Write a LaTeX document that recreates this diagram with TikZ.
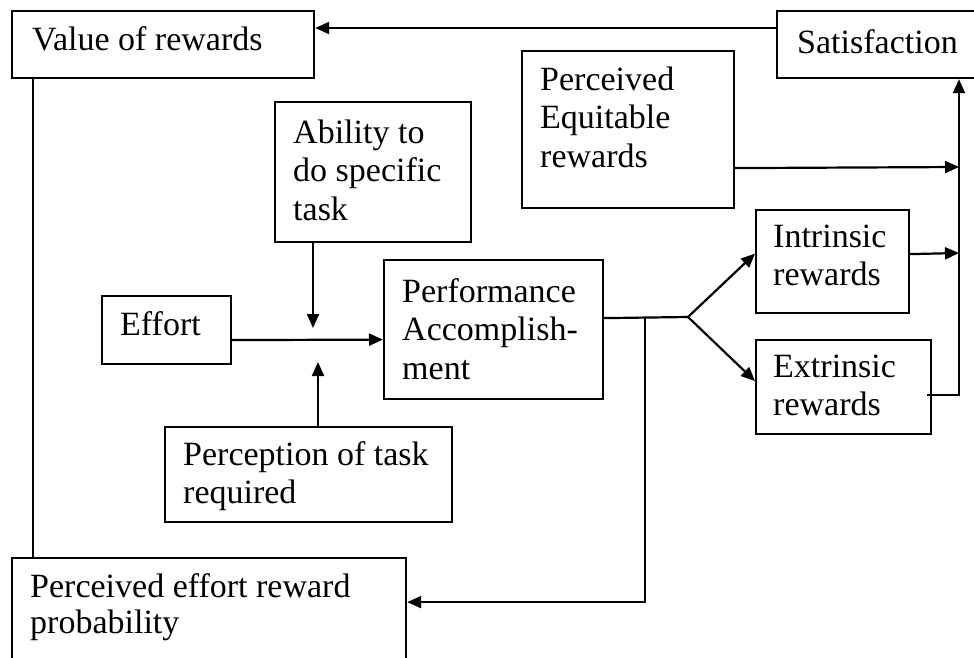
\documentclass[tikz,border=0pt]{standalone}
\usepackage{fontspec}
\setmainfont{Liberation Serif}
\usetikzlibrary{arrows.meta}
\begin{document}
\begin{tikzpicture}[x=1pt,y=-1pt,
  box/.style={draw=black, line width=2.2pt, rectangle, inner sep=0pt, anchor=north west},
  txt/.style={anchor=north west, inner sep=0pt, align=left, font=\fontsize{34}{38.5}\selectfont},
  conn/.style={draw=black, line width=2.2pt},
  arr/.style={conn, -{Triangle[length=14pt,width=12pt]}}]
\useasboundingbox (0,0) rectangle (974,658);
% boxes
\node[box, minimum width=302pt, minimum height=67pt] (vr) at (11,10) {};
\node[box, minimum width=214pt, minimum height=67pt] (sat) at (776,10) {};
\node[box, minimum width=212pt, minimum height=157pt] (per) at (521,50) {};
\node[box, minimum width=196pt, minimum height=140pt] (abl) at (274,101) {};
\node[box, minimum width=129pt, minimum height=68pt] (eff) at (101,295) {};
\node[box, minimum width=219pt, minimum height=139pt] (perf) at (383,259) {};
\node[box, minimum width=287pt, minimum height=95pt] (pct) at (164,426) {};
\node[box, minimum width=394pt, minimum height=120pt] (per2) at (11,557) {};
\node[box, minimum width=153pt, minimum height=103pt] (intr) at (755,209) {};
\node[box, minimum width=175pt, minimum height=94pt] (extr) at (755,339) {};
% texts
\node[txt] (vrT) at (32,23) {\strut Value of rewards};
\node[txt] (satT) at (797,26) {\strut Satisfaction};
\node[txt] (perT) at (540,63) {\strut Perceived\\\strut Equitable\\\strut rewards};
\node[txt] (ablT) at (293,116) {\strut Ability to\\\strut do specific\\\strut task};
\node[txt] (effT) at (120,308) {\strut Effort};
\node[txt] (perfT) at (402,275) {\strut Performance\\\strut Accomplish-\\\strut ment};
\node[txt] (pctT) at (183,438) {\strut Perception of task\\\strut required};
\node[txt] (per2T) at (30,570) {\strut Perceived effort reward\\[-2.5pt]\strut probability};
\node[txt] (intrT) at (773,220) {\strut Intrinsic\\\strut rewards};
\node[txt] (extrT) at (773,350) {\strut Extrinsic\\\strut rewards};
% junction coordinates
\coordinate (j1) at (313,328);
\coordinate (j2) at (318,362);
\coordinate (br) at (688,317);
\coordinate (j3) at (645,317);
\coordinate (c1) at (959,167);
\coordinate (c2) at (959,253);
% connectors
\draw[arr] ([yshift=-18pt]sat.north west) -- ([yshift=-18pt]vr.north east);
\draw[conn] ([xshift=22pt]vr.south west) -- ([xshift=22pt]per2.north west);
\draw[arr] ([xshift=39pt]abl.south west) -- (j1);
\draw[arr] ([xshift=154pt]pct.north west) -- (j2);
\draw[arr] ([yshift=-10pt]eff.east) -- ([yshift=-10pt]perf.west);
\draw[conn] ([yshift=11.5pt]perf.east) -- (br);
\draw[arr] (br) -- ([yshift=8pt]intr.west);
\draw[arr] (br) -- ([yshift=6pt]extr.west);
\draw[arr] (j3) |- ([yshift=16pt]per2.east);
\draw[arr] ([yshift=-38.5pt]per.east) -- (c1);
\draw[arr] ([yshift=7.5pt]intr.east) -- (c2);
\draw[arr] ([yshift=-8pt,xshift=-5pt]extr.east) -| (c1 |- sat.south);
\end{tikzpicture}
\end{document}
